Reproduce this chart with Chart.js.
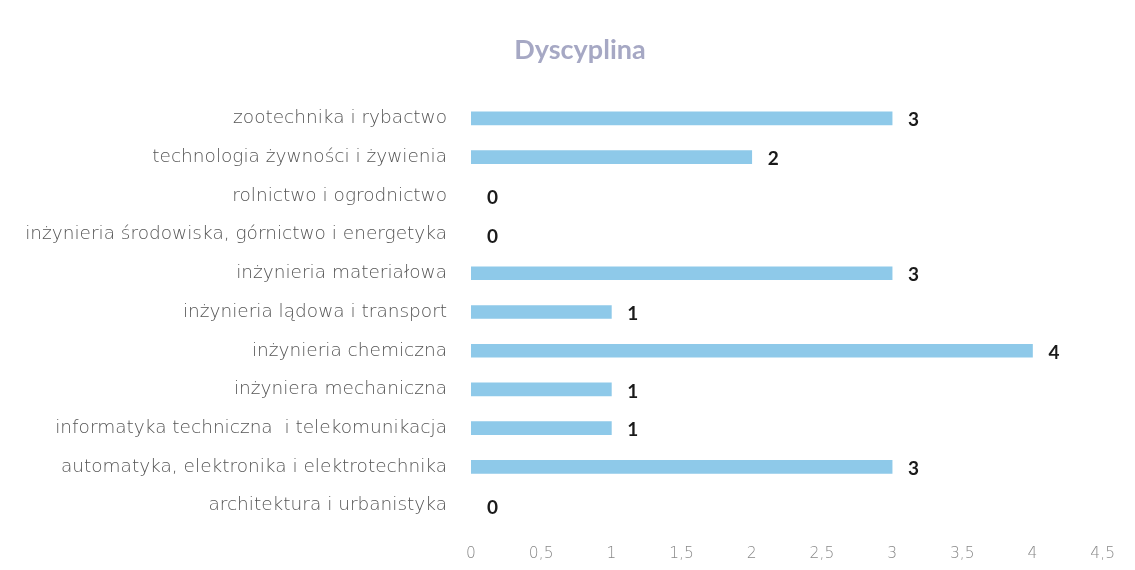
<!DOCTYPE html>
<html>
<head>
<meta charset="utf-8">
<script src="https://cdn.jsdelivr.net/npm/chart.js@4"></script>
<style>
    html, body { margin: 0; padding: 0; background: #fff; }
    #wrap { width: 1135px; height: 570px; }
</style>
</head>
<body>
<div id="wrap"><canvas id="myChart"></canvas></div>
<script>
const categories = [
    'zootechnika i rybactwo',
    'technologia żywności i żywienia',
    'rolnictwo i ogrodnictwo',
    'inżynieria środowiska, górnictwo i energetyka',
    'inżynieria materiałowa',
    'inżynieria lądowa i transport',
    'inżynieria chemiczna',
    'inżyniera mechaniczna',
    'informatyka techniczna  i telekomunikacja',
    'automatyka, elektronika i elektrotechnika',
    'architektura i urbanistyka'
];
const counts = [3, 2, 0, 0, 3, 1, 4, 1, 1, 3, 0];
const chartTitle = 'Dyscyplina';

const ctx = document.getElementById('myChart');

// title sits a bit right of the canvas centre, so it is drawn here
// together with the values next to each bar end
const extraText = {
    id: 'extraText',
    afterDraw(chart) {
        const c = chart.ctx;
        c.save();
        c.font = 'bold 27px Lato, "Open Sans", sans-serif';
        c.fillStyle = '#a6a8c4';
        c.textAlign = 'center';
        c.textBaseline = 'middle';
        c.fillText(chartTitle, 580, 50);

        const meta = chart.getDatasetMeta(0);
        c.font = 'bold 19px Lato, "Liberation Sans", sans-serif';
        c.fillStyle = '#1a1a1a';
        c.textAlign = 'left';
        meta.data.forEach(function (bar, i) {
            c.fillText(String(counts[i]), bar.x + 16, bar.y + 2);
        });
        c.restore();
    }
};

let cfg = {
    type: 'bar',
    data: {
        labels: categories,
        datasets: [{
            data: counts,
            backgroundColor: function (context) {
                return context.raw === 0 ? 'rgba(0,0,0,0)' : '#8ec9e9';
            },
            borderWidth: 0,
            barThickness: 13
        }]
    },
    options: {
        indexAxis: 'y',
        responsive: true,
        maintainAspectRatio: false,
        animation: false,
        layout: {
            padding: { left: 0, right: 30, top: 99, bottom: 0 }
        },
        plugins: {
            legend: { display: false },
            tooltip: { enabled: false },
            title: { display: false }
        },
        scales: {
            x: {
                min: 0,
                max: 4.5,
                afterFit: function (scale) {
                    scale.height = 45;
                },
                ticks: {
                    stepSize: 0.5,
                    color: '#888',
                    padding: 20,
                    font: { size: 15.5, family: '"DejaVu Sans", sans-serif', weight: 200 },
                    callback: function (value) {
                        return String(value).replace('.', ',');
                    }
                },
                grid: { display: false, drawTicks: false },
                border: { display: false }
            },
            y: {
                afterFit: function (scale) {
                    scale.width = 471;
                },
                ticks: {
                    color: '#555',
                    padding: 24,
                    autoSkip: false,
                    font: { size: 18.5, family: '"DejaVu Sans", sans-serif', weight: 200 }
                },
                grid: { display: false, drawTicks: false },
                border: { display: false }
            }
        }
    },
    plugins: [extraText]
};

let myChart = new Chart(ctx, cfg);
</script>
</body>
</html>
